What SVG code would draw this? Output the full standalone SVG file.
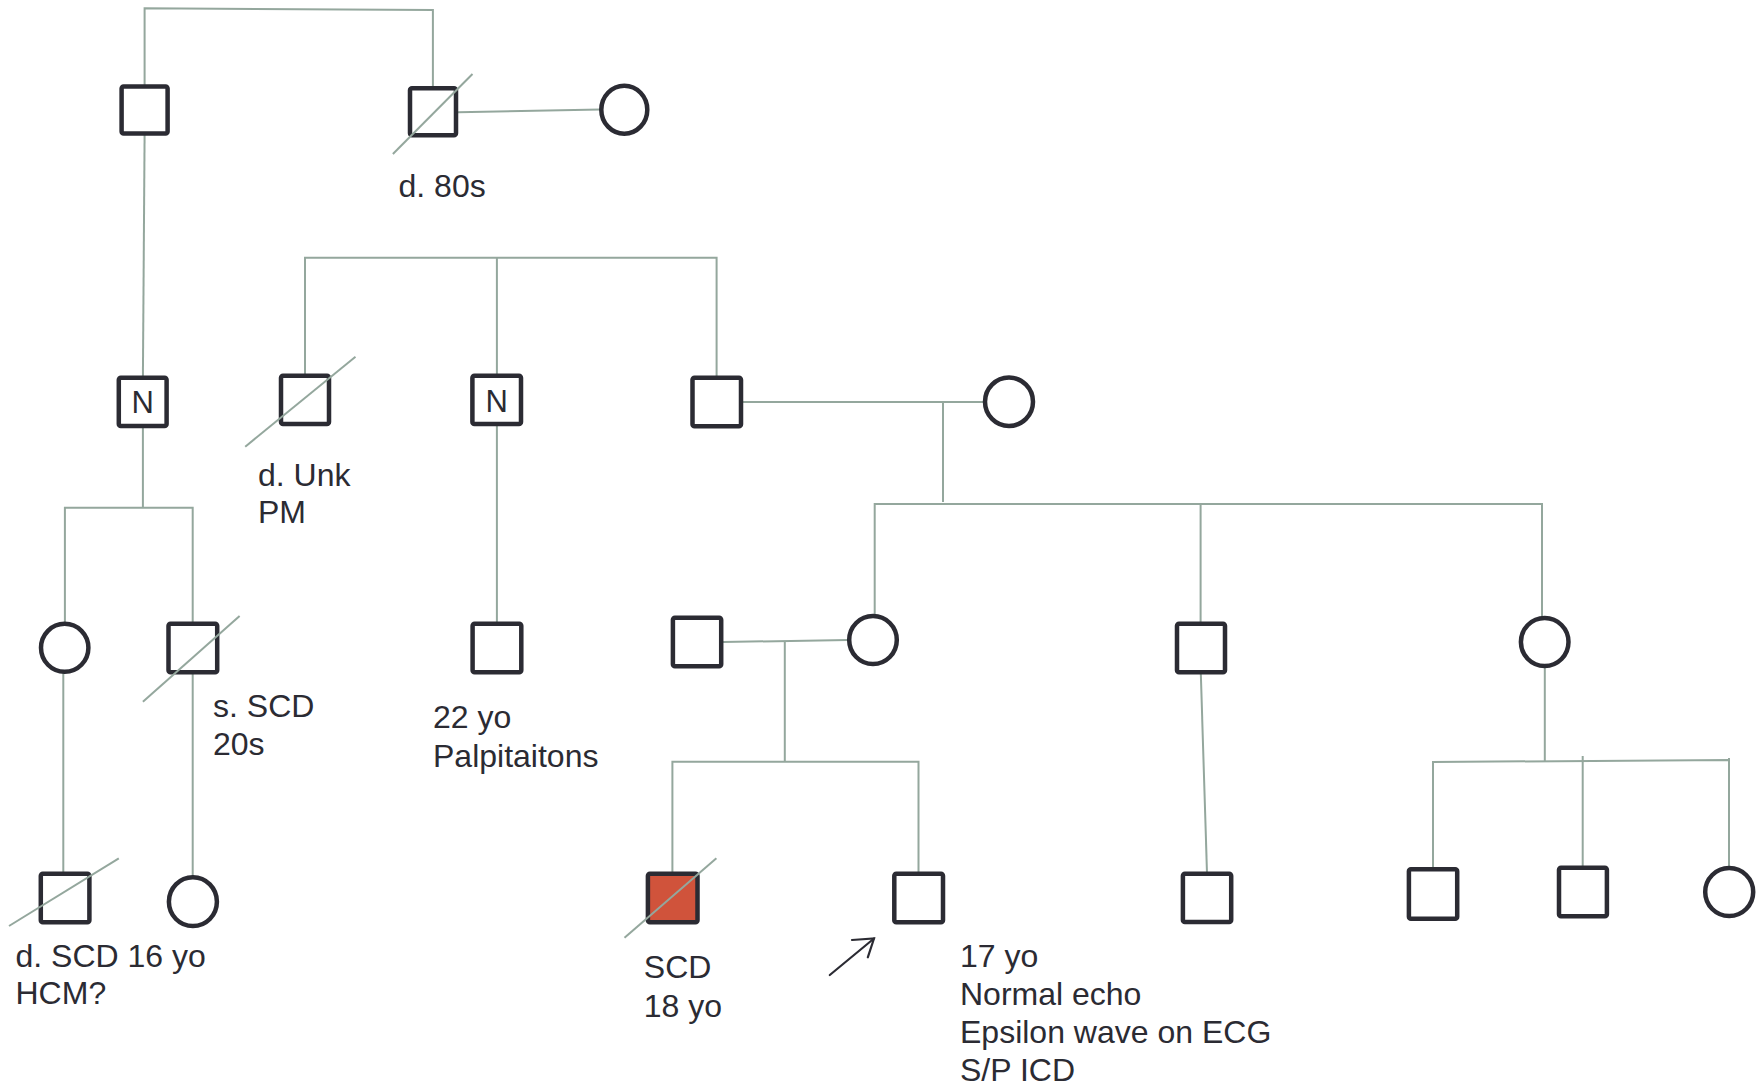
<svg xmlns="http://www.w3.org/2000/svg" width="1761" height="1086" viewBox="0 0 1761 1086">
<defs>
<style>
.sq{fill:#ffffff;stroke:#2b2b33;stroke-width:4.5;rx:2}
.ci{fill:#ffffff;stroke:#2b2b33;stroke-width:4.5}
.aff{fill:#d0533b}
.ln{fill:none;stroke:#94a79d;stroke-width:2}
.dl{fill:none;stroke:#94a79d;stroke-width:2}
.t{font-family:"Liberation Sans",Arial,sans-serif;font-size:32px;fill:#2b2b33}
.n{font-family:"Liberation Sans",Arial,sans-serif;font-size:31px;fill:#2b2b33;text-anchor:middle}
</style>
</defs>
<rect width="1761" height="1086" fill="#ffffff"/>
<g id="connectors">
<polyline class="ln" points="144.6,86 144.6,8.3 432.9,10 432.9,88"/>
<line class="ln" x1="458" y1="112.3" x2="600.5" y2="109.5"/>
<line class="ln" x1="144.6" y1="134" x2="142.9" y2="378"/>
<polyline class="ln" points="305,376 305,257.7 716.6,257.7 716.6,378"/>
<line class="ln" x1="496.9" y1="257.7" x2="496.9" y2="376"/>
<line class="ln" x1="743" y1="402" x2="985" y2="402"/>
<line class="ln" x1="943" y1="402" x2="943" y2="502"/>
<polyline class="ln" points="874.7,615 874.7,504 1542,504 1542,617"/>
<line class="ln" x1="1200.6" y1="504" x2="1200.6" y2="622"/>
<line class="ln" x1="142.9" y1="426" x2="142.9" y2="507.7"/>
<polyline class="ln" points="64.9,622 64.9,507.7 192.7,507.7 192.7,624"/>
<line class="ln" x1="496.9" y1="426" x2="496.9" y2="622"/>
<line class="ln" x1="63.3" y1="672" x2="63.3" y2="873"/>
<line class="ln" x1="192.7" y1="672" x2="192.7" y2="876"/>
<line class="ln" x1="723" y1="642" x2="848" y2="640"/>
<line class="ln" x1="784.8" y1="641" x2="784.8" y2="761.7"/>
<polyline class="ln" points="672.4,873 672.4,761.7 918.5,761.7 918.5,873"/>
<line class="ln" x1="1200.8" y1="673" x2="1207" y2="873"/>
<line class="ln" x1="1544.8" y1="667" x2="1544.8" y2="761"/>
<polyline class="ln" points="1433,868 1433,762 1729,760 1729,867"/>
<line class="ln" x1="1729" y1="758" x2="1729" y2="760"/>
<line class="ln" x1="1582.7" y1="756" x2="1582.7" y2="867"/>
<g fill="none" stroke="#2b2b33" stroke-width="2.2" stroke-linecap="round">
<line x1="829.8" y1="975" x2="874" y2="938.5"/>
<polyline points="852,940 874,938.5 867.8,957.3"/>
</g>
</g>
<g id="gen1-a"><rect class="sq" x="121.6" y="86.5" width="46" height="47"/></g>
<g id="gen1-b"><rect class="sq" x="410" y="88.3" width="46" height="47"/><line class="dl" x1="392.9" y1="154" x2="472.5" y2="74"/><text class="t" x="398.5" y="196.7">d. 80s</text></g>
<g id="gen1-c"><ellipse class="ci" cx="624.3" cy="109.7" rx="23" ry="24"/></g>
<g id="gen2-n1"><rect class="sq" x="118.8" y="377.7" width="47.8" height="48.3"/><text class="n" x="142.7" y="413.3">N</text></g>
<g id="gen2-d"><rect class="sq" x="281" y="375.7" width="48" height="48.3"/><line class="dl" x1="245.2" y1="446.7" x2="355.5" y2="356.7"/><text class="t" x="258" y="485.7">d. Unk</text><text class="t" x="258" y="523.3">PM</text></g>
<g id="gen2-n2"><rect class="sq" x="472.4" y="375.7" width="48.6" height="48.3"/><text class="n" x="496.7" y="411.5">N</text></g>
<g id="gen2-e"><rect class="sq" x="692.5" y="377.7" width="48.5" height="48.6"/></g>
<g id="gen2-f"><ellipse class="ci" cx="1009" cy="401.8" rx="24" ry="24.2"/></g>
<g id="gen3-h"><ellipse class="ci" cx="64.7" cy="647.8" rx="23.7" ry="24"/></g>
<g id="gen3-i"><rect class="sq" x="168.5" y="623.7" width="48.7" height="48.6"/><line class="dl" x1="142.9" y1="701.7" x2="239.6" y2="616"/><text class="t" x="213" y="716.7">s. SCD</text><text class="t" x="213" y="755">20s</text></g>
<g id="gen3-j"><rect class="sq" x="472.6" y="623.7" width="48.7" height="48.6"/><text class="t" x="433" y="728.3">22 yo</text><text class="t" x="433" y="766.7">Palpitaitons</text></g>
<g id="gen3-k"><rect class="sq" x="672.9" y="617.7" width="48.3" height="48.6"/></g>
<g id="gen3-g"><ellipse class="ci" cx="873" cy="640" rx="23.8" ry="24"/></g>
<g id="gen3-l"><rect class="sq" x="1177" y="623.7" width="48" height="48.6"/></g>
<g id="gen3-m"><ellipse class="ci" cx="1544.7" cy="642" rx="23.8" ry="24"/></g>
<g id="gen4-n"><rect class="sq" x="40.8" y="873.7" width="48.6" height="48.6"/><line class="dl" x1="9" y1="926" x2="118.8" y2="858.3"/><text class="t" x="15.5" y="966.7">d. SCD 16 yo</text><text class="t" x="15.5" y="1004">HCM?</text></g>
<g id="gen4-o"><ellipse class="ci" cx="192.9" cy="901.7" rx="24" ry="24.4"/></g>
<g id="gen4-p"><rect class="sq aff" x="647.9" y="873.7" width="49.6" height="48.6"/><line class="dl" x1="624.5" y1="937.7" x2="716.4" y2="858.3"/><text class="t" x="643.8" y="978.3">SCD</text><text class="t" x="643.8" y="1016.7">18 yo</text></g>
<g id="gen4-q"><rect class="sq" x="894.3" y="873.7" width="48.7" height="48.6"/><text class="t" x="960" y="966.7">17 yo</text><text class="t" x="960" y="1005">Normal echo</text><text class="t" x="960" y="1043.3">Epsilon wave on ECG</text><text class="t" x="960" y="1080.7">S/P ICD</text></g>
<g id="gen4-r"><rect class="sq" x="1182.9" y="873.7" width="48.3" height="48.3"/></g>
<g id="gen4-s"><rect class="sq" x="1408.9" y="869.3" width="48.3" height="49.4"/></g>
<g id="gen4-t"><rect class="sq" x="1559" y="867.7" width="47.9" height="48.6"/></g>
<g id="gen4-u"><ellipse class="ci" cx="1729.2" cy="892" rx="24" ry="24"/></g>
</svg>
